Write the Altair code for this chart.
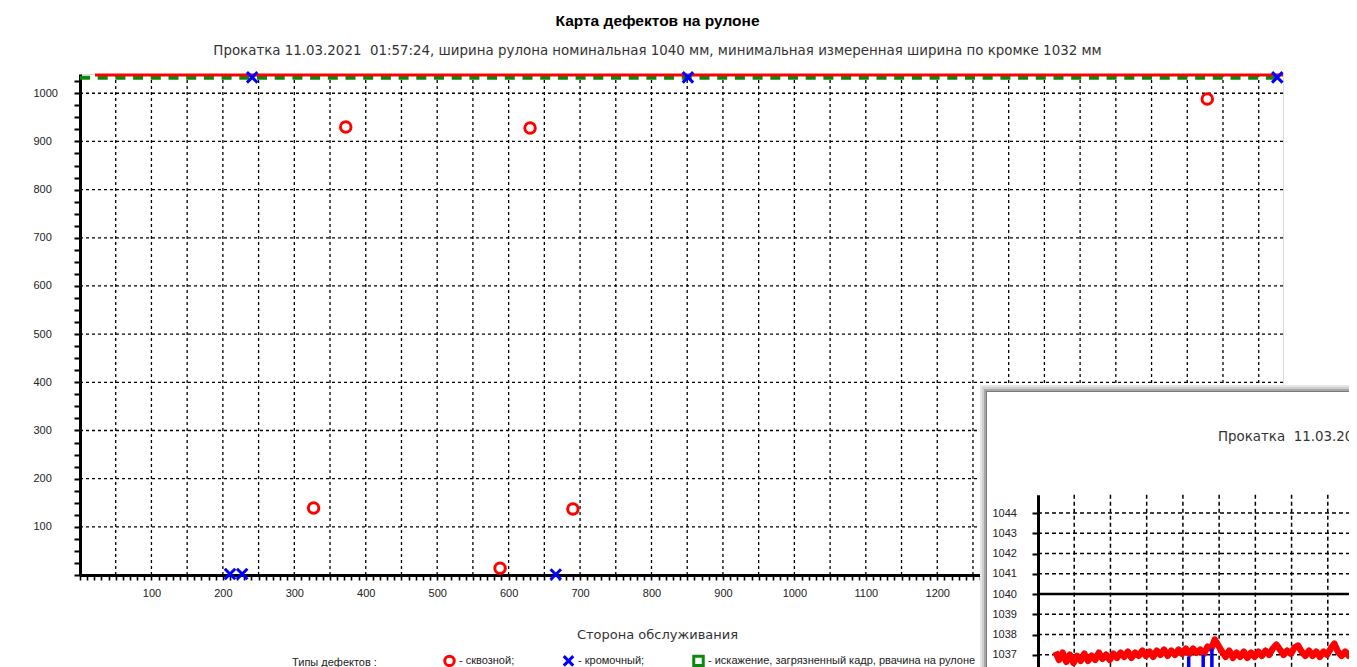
import altair as alt
import pandas as pd

# ---------------- main chart data ----------------
defect_types = ["сквозной", "кромочный", "искажение, загрязненный кадр, рвачина на рулоне"]
defect_colors = ["#ff0000", "#0000ff", "#0a8a0a"]
X_PATH = "M-1,-1L1,1M-1,1L1,-1"
defect_shapes = ["circle", X_PATH, "square"]

hole_x = [327, 372, 630, 588, 690, 1578]
hole_y = [139, 930, 928, 14, 137, 988]
edge_x = [241, 851, 1676, 210, 227, 666]
edge_y = [1033, 1033, 1033, 2, 2, 1]

coil_length = 1684
y_top = 1040
measured_x = [21, 1684]
measured_y = [1038, 1038]
min_width_x = [0, 1684]
min_width_y = [1032, 1032]

x_grid = [50 * i for i in range(1, 34)]
y_grid = [100 * i for i in range(1, 11)]
x_ticks = [10 * i for i in range(0, 169)]
y_ticks = [25 * i for i in range(0, 42)]

title_text = "Карта дефектов на рулоне"
subtitle_text = ("Прокатка 11.03.2021\u00a0 01:57:24, ширина рулона номинальная 1040 мм, "
                 "минимальная измеренная ширина по кромке 1032 мм")
x_title = "Сторона обслуживания"
legend_title = "Типы дефектов :"

# ---------------- inset data ----------------
inset_x = [24, 29, 34, 39, 44, 49, 54, 59, 64, 69, 74, 79, 84, 89, 94, 99, 104, 109, 114, 119,
           124, 129, 134, 139, 144, 149, 154, 159, 164, 169, 174, 179, 184, 189, 194, 199, 204,
           209, 214, 219, 224, 229, 234, 239, 244, 249, 254, 259, 264, 269, 274, 279, 284, 289,
           294, 299, 304, 309, 314, 319, 324, 329, 334, 339, 344, 349, 354, 359, 364, 369, 374,
           379, 384, 389, 394, 399, 404, 409, 414, 419, 424, 429, 434, 439]
inset_width = [1037.15, 1036.75, 1037.1, 1036.65, 1037.0, 1036.6, 1036.95, 1036.7, 1037.05, 1036.7,
               1036.95, 1036.75, 1037.1, 1036.8, 1037.0, 1036.75, 1037.05, 1036.85, 1037.1, 1036.9,
               1037.15, 1036.85, 1037.1, 1036.95, 1037.2, 1036.95, 1037.15, 1036.9, 1037.2, 1037.0,
               1037.25, 1036.95, 1037.2, 1037.0, 1037.25, 1037.05, 1037.3, 1037.05, 1037.3, 1037.1,
               1037.25, 1037.05, 1037.4, 1037.3, 1037.75, 1037.45, 1037.15, 1036.9, 1037.2, 1036.85,
               1037.1, 1036.9, 1037.15, 1036.85, 1037.1, 1036.9, 1037.15, 1036.95, 1037.2, 1037.0,
               1037.3, 1037.5, 1037.25, 1037.0, 1037.2, 1037.05, 1037.35, 1037.45, 1037.15, 1036.95,
               1037.2, 1036.95, 1037.15, 1036.9, 1037.15, 1037.0, 1037.3, 1037.55, 1037.15, 1036.95,
               1037.15, 1036.95, 1037.2, 1037.0]
spike_x = [208, 228, 240]
spike_top = [1036.9, 1037.0, 1037.3]
spike_bottom = [1030, 1030, 1030]
inset_vgrid = [50, 100, 150, 200, 250, 300, 350, 400]
inset_hgrid = [1036, 1037, 1038, 1039, 1041, 1042, 1043, 1044]
inset_ticks = [1036, 1037, 1038, 1039, 1040, 1041, 1042, 1043, 1044]
inset_nominal = [1040]
inset_title = "Прокатка\u00a0 11.03.2021\u00a0 01:57:24, ширина рулона номинальная 1040 мм"

W, H = 1203, 501
LBL_FONT = "Liberation Sans"
TXT_FONT = "DejaVu Sans"

# ---------------- main layers ----------------
xs = alt.Scale(domain=[0, coil_length], nice=False, zero=False)
ys = alt.Scale(domain=[0, y_top], nice=False, zero=False)

lbl_expr = "datum.value % 100 == 0 && datum.value > 0 ? datum.label : ''"
main_x_axis = alt.Axis(values=x_ticks, labelExpr=lbl_expr, format="d", grid=False,
                       tickSize=5, tickWidth=1.6, tickColor="black",
                       domainColor="black", domainWidth=3,
                       labelFont=LBL_FONT, labelFontSize=11, labelColor="#222",
                       labelPadding=7, labelOverlap=False, labelFlush=False,
                       title=x_title, titleFont=TXT_FONT, titleFontSize=13,
                       titleFontWeight="normal", titleColor="#333",
                       titleX=577, titleY=59, titleBaseline="middle", titleAlign="center")
main_y_axis = alt.Axis(values=y_ticks, labelExpr=lbl_expr, format="d", grid=False,
                       tickSize=6, tickWidth=2, tickColor="black",
                       domainColor="black", domainWidth=3,
                       labelFont=LBL_FONT, labelFontSize=11, labelColor="#222",
                       labelAlign="left", labelPadding=41, labelOverlap=False,
                       labelFlush=False, title=None)

def mx(field="x"):
    return alt.X(f"{field}:Q", scale=xs, axis=main_x_axis)

def my(field="y"):
    return alt.Y(f"{field}:Q", scale=ys, axis=main_y_axis)

vgrid_df = pd.DataFrame({"x": x_grid, "y": [0] * len(x_grid), "y2": [y_top] * len(x_grid)})
vgrid = alt.Chart(vgrid_df).mark_rule(color="black", strokeWidth=1.3, strokeDash=[3, 3]).encode(
    x=mx(), y=my(), y2="y2:Q")

hgrid_df = pd.DataFrame({"y": y_grid, "x": [0] * len(y_grid), "x2": [coil_length] * len(y_grid)})
hgrid = alt.Chart(hgrid_df).mark_rule(color="black", strokeWidth=1.3, strokeDash=[3, 3]).encode(
    y=my(), x=mx(), x2="x2:Q")

green = alt.Chart(pd.DataFrame({"x": min_width_x, "y": min_width_y})).mark_line(
    color="#0a8a0a", strokeWidth=4, strokeDash=[10, 7.7]).encode(x=mx(), y=my())
red = alt.Chart(pd.DataFrame({"x": measured_x, "y": measured_y})).mark_line(
    color="#ff0000", strokeWidth=3).encode(x=mx(), y=my())

pts_df = pd.DataFrame({
    "x": hole_x + edge_x,
    "y": hole_y + edge_y,
    "type": [defect_types[0]] * len(hole_x) + [defect_types[1]] * len(edge_x),
})
legend = alt.Legend(orient="none", legendX=212, legendY=580, direction="horizontal",
                    title=legend_title, titleOrient="left", titlePadding=66,
                    titleFont=LBL_FONT, titleFontSize=11, titleFontWeight="normal",
                    titleColor="#222", titleBaseline="middle",
                    labelFont=LBL_FONT, labelFontSize=11, labelColor="#222",
                    labelExpr="'- ' + datum.label + (datum.label == 'сквозной' || datum.label == 'кромочный' ? ';' : '')",
                    labelLimit=600, labelOffset=3, columnPadding=42,
                    symbolSize=90, symbolStrokeWidth=3)
points = alt.Chart(pts_df).mark_point(filled=False, strokeWidth=3, size=110, opacity=1).encode(
    x=mx(), y=my(),
    color=alt.Color("type:N", scale=alt.Scale(domain=defect_types, range=defect_colors), legend=legend),
    shape=alt.Shape("type:N", scale=alt.Scale(domain=defect_types, range=defect_shapes), legend=legend),
)

main = alt.layer(vgrid, hgrid, green, red, points)

# ---------------- inset layers ----------------
ix = alt.Scale(domain=[0, 400], range=[958, 1247.8], nice=False, zero=False)
iy = alt.Scale(domain=[1030, 1044.9], range=[722.5, 420.8], nice=False, zero=False)
inset_y_axis = alt.Axis(orient="left", offset=-958, values=inset_ticks, format="d", grid=False,
                        tickSize=6, tickWidth=2, tickColor="black",
                        domainColor="black", domainWidth=3,
                        labelFont=LBL_FONT, labelFontSize=11, labelColor="#222",
                        labelAlign="left", labelPadding=40, labelOverlap=False,
                        labelFlush=False, title=None, zindex=1)

def ixe(field="x"):
    return alt.X(f"{field}:Q", scale=ix, axis=None)

def iye(field="y"):
    return alt.Y(f"{field}:Q", scale=iy, axis=inset_y_axis)

one = pd.DataFrame({"a": [0]})
frames = []
for off, col in [(7, "#e6e6e6"), (5, "#cfcfcf"), (3, "#a8a8a8"), (1, "#7a7a7a"), (0, "white")]:
    frames.append(alt.Chart(one).mark_rect(color=col).encode(
        x=alt.value(907 - off), x2=alt.value(1400), y=alt.value(318 - off), y2=alt.value(800)))

ititle = alt.Chart(one).mark_text(align="left", baseline="middle", font=TXT_FONT, fontSize=13.4,
                                  color="#333", text=inset_title).encode(
    x=alt.value(1138), y=alt.value(363))

ivgrid_df = pd.DataFrame({"x": inset_vgrid, "y": [1044.9] * len(inset_vgrid), "y2": [1030] * len(inset_vgrid)})
ivgrid = alt.Chart(ivgrid_df).mark_rule(color="black", strokeWidth=1.5, strokeDash=[4, 3]).encode(
    x=ixe(), y=iye(), y2="y2:Q")
ihgrid_df = pd.DataFrame({"y": inset_hgrid, "x": [0] * len(inset_hgrid), "x2": [450] * len(inset_hgrid)})
ihgrid = alt.Chart(ihgrid_df).mark_rule(color="black", strokeWidth=1.5, strokeDash=[4, 3]).encode(
    y=iye(), x=ixe(), x2="x2:Q")
inom = alt.Chart(pd.DataFrame({"y": inset_nominal, "x": [0], "x2": [450]})).mark_rule(
    color="black", strokeWidth=2.5).encode(y=iye(), x=ixe(), x2="x2:Q")
iline = alt.Chart(pd.DataFrame({"x": inset_x, "y": inset_width})).mark_line(
    color="#ff0000", strokeWidth=6.5, strokeJoin="round").encode(x=ixe(), y=iye())
ispikes = alt.Chart(pd.DataFrame({"x": spike_x, "y": spike_top, "y2": spike_bottom})).mark_rule(
    color="#0000ff", strokeWidth=3.5).encode(x=ixe(), y=iye(), y2="y2:Q")

inset = alt.layer(*frames, ititle, ivgrid, ihgrid, inom, iline, ispikes)

chart = alt.layer(main, inset).resolve_scale(x="independent", y="independent").properties(
    width=W, height=H,
    title=alt.Title(text=title_text, subtitle=subtitle_text, anchor="middle", dx=-24, offset=9,
                    font=LBL_FONT, fontSize=15.5, fontWeight="bold", color="black",
                    subtitleFont=TXT_FONT, subtitleFontSize=13.4, subtitleColor="#333",
                    subtitlePadding=14),
    autosize=alt.AutoSizeParams(type="none"),
    padding={"left": 72, "top": 66, "right": 66, "bottom": 92},
).configure_view(stroke="black", strokeWidth=3).configure(background="white")

chart.save("out.html", embed_options={"renderer": "svg", "actions": False})
